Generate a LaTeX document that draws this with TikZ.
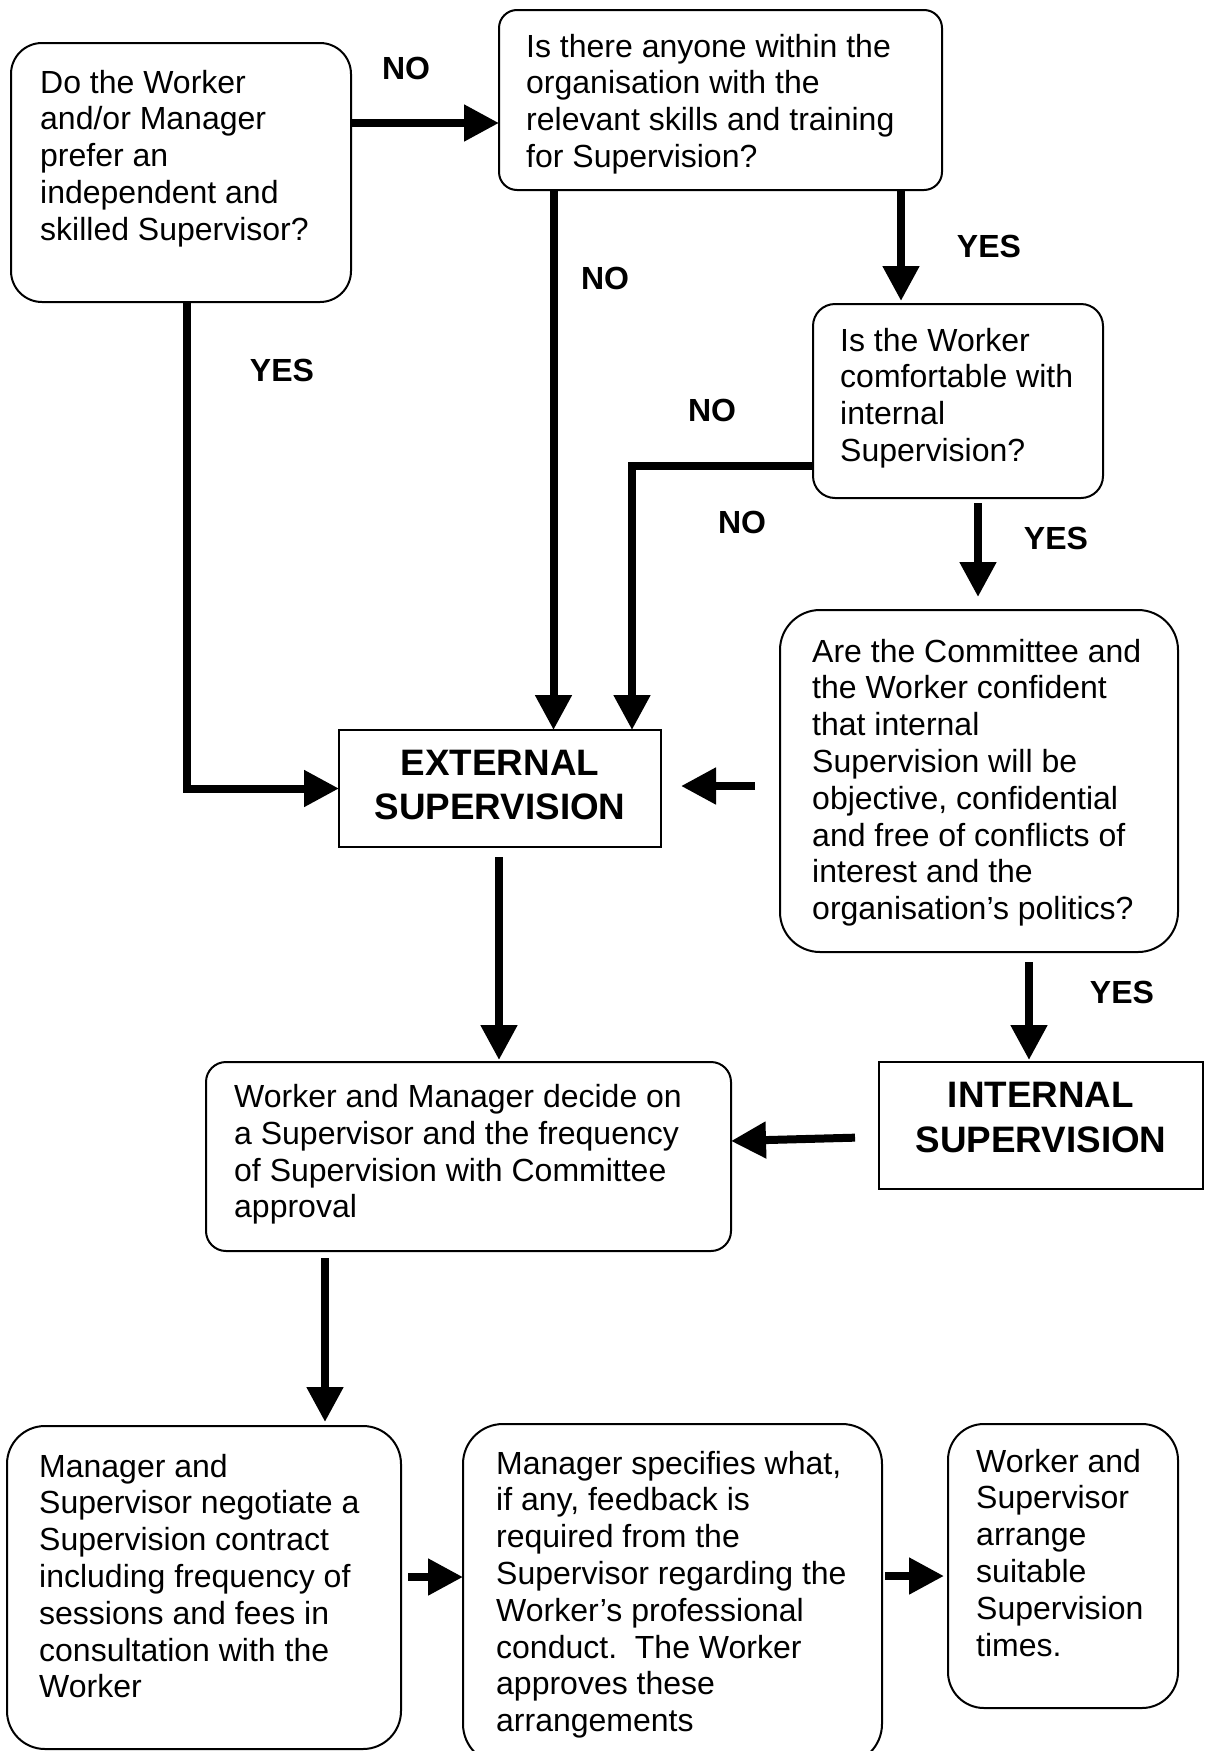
\documentclass[tikz,border=0pt]{standalone}
\usepackage{fontspec}
\setmainfont{Liberation Sans}
\usetikzlibrary{arrows.meta,calc}
\newcommand\mytxtl[1]{\begin{tabular}[t]{@{}l@{}}#1\end{tabular}}
\newcommand\mytxtc[1]{\begin{tabular}[t]{@{}c@{}}#1\end{tabular}}
\begin{document}
\frenchspacing
\begin{tikzpicture}[x=1pt,y=-1pt,
  box/.style={draw, line width=2pt, rectangle, anchor=north west, inner sep=0pt, outer sep=0pt},
  txt/.style={inner sep=0pt, anchor=base west, font=\fontsize{32}{36.8}\selectfont},
  lab/.style={inner sep=0pt, font=\fontsize{32}{36.8}\selectfont\bfseries},
  big/.style={inner sep=0pt, anchor=base, font=\fontsize{36.8}{44.6}\selectfont\bfseries},
  conn/.style={line width=8pt, -{Triangle[length=35pt,width=35pt]}},
]
\useasboundingbox (0,0) rectangle (1213,1751);
\clip (0,0) rectangle (1213,1751);

% boxes
\node[box, rounded corners=31pt, minimum width=340pt, minimum height=259pt] (b1) at (11,43) {};
\node[box, rounded corners=18pt, minimum width=443pt, minimum height=180pt] (b2) at (499,10) {};
\node[box, rounded corners=22pt, minimum width=290pt, minimum height=194pt] (b3) at (813,304) {};
\node[box, minimum width=322pt, minimum height=117pt] (ext) at (339,730) {};
\node[box, rounded corners=40pt, minimum width=398pt, minimum height=342pt] (conf) at (780,610) {};
\node[box, minimum width=324pt, minimum height=127pt] (intl) at (879,1062) {};
\node[box, rounded corners=20pt, minimum width=525pt, minimum height=189pt] (dec) at (206,1062) {};
\node[box, rounded corners=38pt, minimum width=394pt, minimum height=323pt] (neg) at (7,1426) {};
\node[box, rounded corners=40pt, minimum width=419pt, minimum height=340pt] (spec) at (463,1424) {};
\node[box, rounded corners=36pt, minimum width=230pt, minimum height=284pt] (arr) at (948,1424) {};

% texts
\node[txt] (t1) at (40,93) {\mytxtl{Do the Worker\\and/or Manager\\prefer an\\independent and\\skilled Supervisor?}};
\node[txt] (t2) at (526,57) {\mytxtl{Is there anyone within the\\organisation with the\\relevant skills and training\\for Supervision?}};
\node[txt] (t3) at (840,351) {\mytxtl{Is the Worker\\comfortable with\\internal\\Supervision?}};
\node[txt] (t4) at (812,662) {\mytxtl{Are the Committee and\\the Worker confident\\that internal\\Supervision will be\\objective, confidential\\and free of conflicts of\\interest and the\\organisation’s politics?}};
\node[txt] (t5) at (234,1107.5) {\mytxtl{Worker and Manager decide on\\a Supervisor and the frequency\\of Supervision with Committee\\approval}};
\node[txt] (t6) at (39,1477) {\mytxtl{Manager and\\Supervisor negotiate a\\Supervision contract\\including frequency of\\sessions and fees in\\consultation with the\\Worker}};
\begin{scope}
\clip (0,0) rectangle (1213,1738);
\node[txt] (t7) at (496,1474) {\mytxtl{Manager specifies what,\\if any, feedback is\\required from the\\Supervisor regarding the\\Worker’s professional\\conduct.\ \ The Worker\\approves these\\arrangements}};
\end{scope}
\node[txt] (t8) at (976,1472) {\mytxtl{Worker and\\Supervisor\\arrange\\suitable\\Supervision\\times.}};
\node[big] (te) at (500,775) {\mytxtc{EXTERNAL\\SUPERVISION}};
\node[big] (ti) at (1041,1107.5) {\mytxtc{INTERNAL\\SUPERVISION}};

% labels
\node[lab] (l1) at (406,68) {NO};
\node[lab] (l2) at (282,370) {YES};
\node[lab] (l3) at (605,278) {NO};
\node[lab] (l4) at (989,246) {YES};
\node[lab] (l5) at (712,410) {NO};
\node[lab] (l6) at (742,522) {NO};
\node[lab] (l7) at (1056,538) {YES};
\node[lab] (l8) at (1122,992) {YES};

% connectors
\draw[conn] (b1.east |- 0,123) -- (b2.west |- 0,123);
\draw[conn] (187,0 |- b1.south) |- (ext.west);
\draw[conn] (553.5,0 |- b2.south) -- (553.5,0 |- ext.north);
\draw[conn, shorten >=3pt] (901,0 |- b2.south) -- (901,0 |- b3.north);
\draw[conn] (b3.west |- 0,466) -| (632,0 |- ext.north);
\draw[conn, shorten <=5pt, shorten >=13pt] (978,0 |- b3.south) -- (978,0 |- conf.north);
\draw[conn, shorten <=25pt, shorten >=20pt] (conf.west |- 0,786) -- (ext.east |- 0,786);
\draw[conn, shorten <=10pt, shorten >=2pt] (1029,0 |- conf.south) -- (1029,0 |- intl.north);
\draw[conn, shorten <=10pt, shorten >=2pt] (499,0 |- ext.south) -- (499,0 |- dec.north);
\draw[conn, shorten <=24pt] (intl.west |- 0,1137) -- (dec.east |- 0,1141);
\draw[conn, shorten <=7pt, shorten >=4pt] (325,0 |- dec.south) -- (325,0 |- neg.north);
\draw[conn, shorten <=7pt] (neg.east |- 0,1577) -- (spec.west |- 0,1577);
\draw[conn, shorten <=3pt, shorten >=4pt] (spec.east |- 0,1576) -- (arr.west |- 0,1576);
\end{tikzpicture}
\end{document}
